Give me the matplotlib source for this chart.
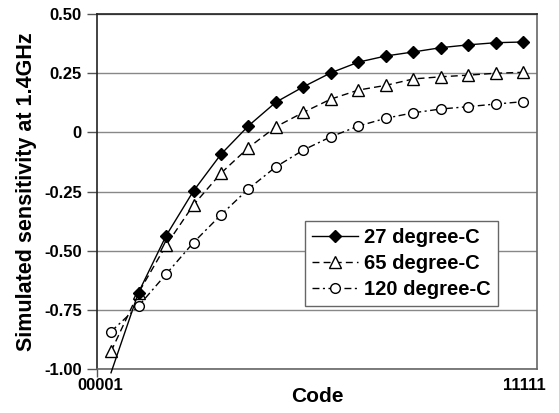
import numpy as np
import matplotlib
matplotlib.use("Agg")
import matplotlib.pyplot as plt

plt.rcParams['font.family'] = ['Liberation Sans', 'DejaVu Sans']
plt.rcParams['font.weight'] = 'bold'

# codes 00001 .. 11111, 16 samples
codes = np.arange(16)
tick_pos = [-0.4, 15.05]
tick_labels = ["00001", "11111"]

s27 = [-1.015, -0.676, -0.437, -0.247, -0.092, 0.028, 0.128, 0.193,
       0.252, 0.297, 0.323, 0.340, 0.358, 0.370, 0.379, 0.382]
s65 = [-0.925, -0.677, -0.477, -0.306, -0.172, -0.064, 0.024, 0.085,
       0.141, 0.179, 0.199, 0.226, 0.235, 0.242, 0.250, 0.254]
s120 = [-0.841, -0.733, -0.599, -0.465, -0.348, -0.238, -0.145, -0.074,
        -0.018, 0.027, 0.060, 0.083, 0.099, 0.109, 0.120, 0.130]

fig = plt.figure(figsize=(5.59, 4.13), dpi=100)
ax = fig.add_axes([0.174, 0.106, 0.787, 0.860])

ax.plot(codes, s27, color='black', lw=1.0, ls='-', marker='D', ms=6.5,
        mfc='black', mec='black', markevery=slice(1, None), clip_on=False,
        label='27 degree-C', zorder=5)
ax.plot(codes, s65, color='black', lw=1.0, ls=(0, (5, 3)), marker='^', ms=8,
        mfc='white', mec='black', mew=1.0, label='65 degree-C', zorder=4)
ax.plot(codes, s120, color='black', lw=1.0, ls=(0, (5, 2.5, 1.5, 2.5)), marker='o', ms=7,
        mfc='white', mec='black', mew=1.0, label='120 degree-C', zorder=3)

ax.set_xlim(-0.5, 15.5)
ax.set_ylim(-1.0, 0.5)
yt = [-1.0, -0.75, -0.5, -0.25, 0, 0.25, 0.5]
ax.set_yticks(yt)
ax.set_yticklabels(["-1.00", "-0.75", "-0.50", "-0.25", "0", "0.25", "0.50"])
ax.set_xticks(tick_pos)
ax.set_xticklabels(tick_labels)
ax.tick_params(axis='x', length=0, labelsize=12, pad=6)
ax.tick_params(axis='y', length=7, width=1, color='#555555', labelsize=12, pad=4)
ax.set_xticks([-0.5], minor=True)
ax.tick_params(axis='x', which='minor', length=6, width=1, color='#555555')

ax.grid(axis='y', color='#888888', lw=1.0)
ax.set_axisbelow(True)
for side in ['top', 'left']:
    ax.spines[side].set_color('#222222')
for side in ['right', 'bottom']:
    ax.spines[side].set_color('#666666')
for sp in ax.spines.values():
    sp.set_linewidth(1.2)

ax.set_xlabel("Code", fontsize=15, fontweight='bold', labelpad=-4)
ax.set_ylabel("Simulated sensitivity at 1.4GHz", fontsize=15.5, fontweight='bold', labelpad=5)

leg = ax.legend(loc='upper left', bbox_to_anchor=(0.472, 0.417), fontsize=14.5,
                frameon=True, fancybox=False, edgecolor='#666666', framealpha=1,
                handlelength=2.3, handletextpad=0.3, borderpad=0.35, labelspacing=0.35,
                borderaxespad=0)
leg.get_frame().set_linewidth(1.0)

fig.savefig("out.png", dpi=100)
